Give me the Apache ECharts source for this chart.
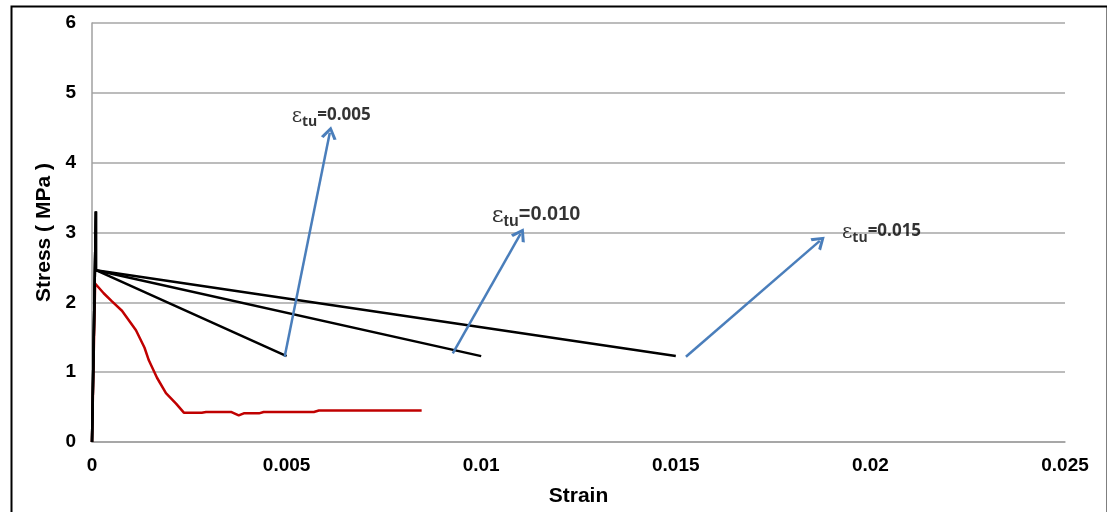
<!DOCTYPE html>
<html>
<head>
<meta charset="utf-8">
<script src="https://cdn.jsdelivr.net/npm/echarts@6/dist/echarts.min.js"></script>
<style>
  html, body { margin: 0; padding: 0; background: #ffffff; }
  #chart { width: 1107px; height: 512px; }
</style>
</head>
<body>
<div id="chart"></div>
<script>
// Strain axis ticks and stress axis ticks
const strainTicks = [0, 0.005, 0.01, 0.015, 0.02, 0.025];
const stressTicks = [0, 1, 2, 3, 4, 5, 6];

// Bilinear tension-softening models: elastic rise to peak, drop to cracking stress,
// linear softening down to half of it at the ultimate tensile strain
const model005 = [[0, 0], [0.0001, 3.3], [0.0001, 2.46], [0.005, 1.23]];
const model010 = [[0, 0], [0.0001, 3.3], [0.0001, 2.46], [0.010, 1.23]];
const model015 = [[0, 0], [0.0001, 3.3], [0.0001, 2.46], [0.015, 1.23]];

// Measured stress-strain response
const measured = [
  [0, 0], [0.00008, 2.27], [0.0003, 2.13], [0.0005, 2.02], [0.00077, 1.88],
  [0.00113, 1.6], [0.00135, 1.35], [0.00146, 1.17], [0.00167, 0.92],
  [0.0019, 0.7], [0.00216, 0.55], [0.00236, 0.42], [0.00282, 0.42],
  [0.00293, 0.43], [0.00357, 0.43], [0.00377, 0.38], [0.0039, 0.41],
  [0.00429, 0.41], [0.00441, 0.43], [0.0057, 0.43], [0.00583, 0.45],
  [0.00847, 0.45]
];

// Callout arrows: [from, to] in (strain, stress)
const arrows = [
  [[0.00495, 1.22], [0.00611, 4.43]],
  [[0.00927, 1.27], [0.01101, 2.98]],
  [[0.01526, 1.22], [0.0187, 2.88]]
];

// Callout labels: anchor (strain, stress) and value text
const calloutAnchors = [[0.00513, 4.64], [0.01027, 3.22], [0.01927, 2.98]];
const calloutValues = ['0.005', '0.010', '0.015'];
const calloutScale = [1.02, 1.17, 1.02];

const axisFont = { fontFamily: 'Liberation Sans, Arial, sans-serif', fontWeight: 'bold', fontSize: 19, color: '#000' };
const titleFont = { fontFamily: 'Liberation Sans, Arial, sans-serif', fontWeight: 'bold', fontSize: 21, color: '#000' };

function softening(data) {
  return {
    type: 'line', data: data, symbol: 'none', z: 3,
    lineStyle: { color: '#000000', width: 2.5 }
  };
}

function calloutRich(i) {
  const k = calloutScale[i];
  const fam = i === 1 ? 'Liberation Sans, Arial, sans-serif' : 'Open Sans, Lato, sans-serif';
  const lh = Math.round(22 * k);
  return {
    e: { fontFamily: 'DejaVu Serif, serif', fontSize: Math.round(20 * k), color: '#000', lineHeight: lh, verticalAlign: 'top' },
    s: { fontFamily: fam, fontWeight: 'bold', fontSize: Math.round(14 * k), color: '#000', lineHeight: lh, padding: [Math.round(8 * k), 0, 0, 0], verticalAlign: 'top' },
    v: { fontFamily: fam, fontWeight: 'bold', fontSize: Math.round(17 * k), color: '#000', lineHeight: lh, verticalAlign: 'top' }
  };
}

const chart = echarts.init(document.getElementById('chart'), null, { renderer: 'canvas' });

chart.setOption({
  animation: false,
  backgroundColor: '#ffffff',
  grid: { left: 92, right: 42, top: 23, bottom: 70 },
  xAxis: {
    type: 'value', min: strainTicks[0], max: strainTicks[strainTicks.length - 1], interval: 0.005,
    name: 'Strain', nameLocation: 'middle', nameGap: 44,
    nameTextStyle: titleFont,
    axisLine: { show: true, lineStyle: { color: '#a0a0a0', width: 1.5 } },
    axisTick: { show: false },
    splitLine: { show: false },
    axisLabel: Object.assign({ margin: 14 }, axisFont)
  },
  yAxis: {
    type: 'value', min: stressTicks[0], max: stressTicks[stressTicks.length - 1], interval: 1,
    name: 'Stress ( MPa )', nameLocation: 'middle', nameGap: 37, nameRotate: 90,
    nameTextStyle: titleFont,
    axisLine: { show: true, lineStyle: { color: '#a0a0a0', width: 1.5 } },
    axisTick: { show: false },
    splitLine: { show: true, lineStyle: { color: '#a6a6a6', width: 1.5 } },
    axisLabel: Object.assign({ margin: 16 }, axisFont)
  },
  series: [
    softening(model005),
    softening(model010),
    softening(model015),
    {
      type: 'line', data: measured, symbol: 'none', z: 2,
      lineStyle: { color: '#c00000', width: 2.5 }
    },
    {
      type: 'scatter', symbolSize: 0, z: 5,
      data: calloutAnchors.map((p, i) => ({
        value: p,
        label: { show: true, rich: calloutRich(i) }
      })),
      label: {
        show: true, position: 'inside', align: 'left', verticalAlign: 'middle',
        formatter: (p) => '{e|ε}{s|tu}{v|=' + calloutValues[p.dataIndex] + '}'
      },
      markLine: {
        silent: true, symbol: ['none', 'path://M0,12 L6,0 L12,12 L9.8,13.2 L6,5.2 L2.2,13.2 Z'],
        symbolSize: [16, 13],
        label: { show: false },
        lineStyle: { color: '#4a7ebb', width: 2.5, type: 'solid' },
        data: arrows.map(a => [{ coord: a[0] }, { coord: a[1] }])
      }
    }
  ],
  graphic: [{
    type: 'rect', left: 9, top: 4, z: 10, silent: true,
    shape: { width: 1096, height: 520 },
    style: { fill: 'none', stroke: '#000', lineWidth: 2 }
  }]
});
</script>
</body>
</html>
